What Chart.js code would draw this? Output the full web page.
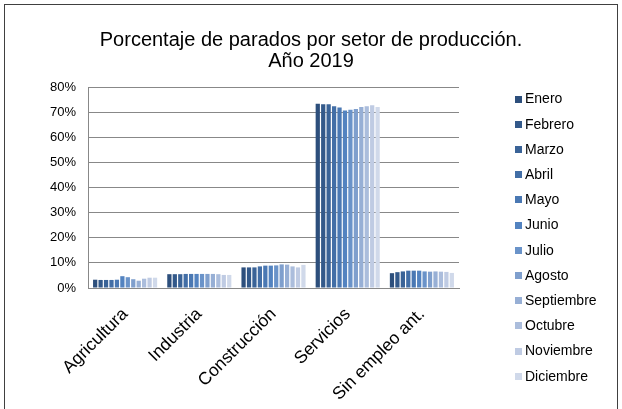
<!DOCTYPE html>
<html>
<head>
<meta charset="utf-8">
<script src="https://cdn.jsdelivr.net/npm/chart.js@4"></script>
<style>
  html, body { margin: 0; padding: 0; background: #fff; }
  #wrap { position: relative; width: 622px; height: 409px; }
</style>
</head>
<body>
<div id="wrap"><canvas id="myChart" width="622" height="409"></canvas></div>
<script>
// Data (percent)
const sectors = ["Agricultura", "Industria", "Construcción", "Servicios", "Sin empleo ant."];
const months = ["Enero", "Febrero", "Marzo", "Abril", "Mayo", "Junio", "Julio",
  "Agosto", "Septiembre", "Octubre", "Noviembre", "Diciembre"];

const agricultura = [3.3, 3.2, 3.2, 3.2, 3.3, 4.7, 4.3, 3.5, 2.9, 3.7, 4.1, 4.1];
const industria = [5.5, 5.5, 5.5, 5.6, 5.6, 5.6, 5.6, 5.6, 5.6, 5.5, 5.2, 5.2];
const construccion = [8.2, 8.2, 8.2, 8.6, 8.9, 8.9, 9.0, 9.4, 9.3, 8.6, 8.2, 9.2];
const servicios = [73.3, 73.1, 73.1, 72.3, 71.8, 70.6, 70.9, 71.2, 72.0, 72.3, 72.7, 72.0];
const sinEmpleo = [5.9, 6.3, 6.6, 6.9, 6.9, 6.9, 6.6, 6.5, 6.6, 6.5, 6.4, 6.0];

const yTicks = [0, 10, 20, 30, 40, 50, 60, 70, 80];
const titleLines = ["Porcentaje de parados por setor de producción.", "Año 2019"];

const monthColors = ["#2d4f7c", "#33598a", "#3a6397", "#426ea6", "#4a78b3", "#5383c0",
  "#6a93c9", "#7f9fcd", "#97afd5", "#abbddc", "#bfcbe3", "#d0d9ea"];

const FONT = "'Liberation Sans', Arial, sans-serif";

// one dataset per month, values taken across the sector arrays
const bySector = [agricultura, industria, construccion, servicios, sinEmpleo];
const datasets = months.map((m, i) => ({
  label: m,
  data: bySector.map(s => s[i]),
  backgroundColor: monthColors[i],
  borderWidth: 0,
  barPercentage: 0.78,
  categoryPercentage: 0.88
}));

// frame, title (centred on the whole picture) and the legend on the right
const framePlugin = {
  id: "frame",
  afterDraw(chart) {
    const ctx = chart.ctx;
    ctx.save();
    ctx.strokeStyle = "#404040";
    ctx.lineWidth = 1;
    ctx.strokeRect(4.5, 4.5, 613, 420);

    ctx.fillStyle = "#000";
    ctx.font = "20px " + FONT;
    ctx.textAlign = "center";
    ctx.textBaseline = "middle";
    titleLines.forEach((t, i) => ctx.fillText(t, 311, 40 + i * 21.5));

    ctx.font = "14px " + FONT;
    ctx.textAlign = "left";
    chart.data.datasets.forEach((ds, i) => {
      const y = 99 + i * 25.2;
      ctx.fillStyle = ds.backgroundColor;
      ctx.fillRect(515, Math.round(y - 3.5), 7, 7);
      ctx.fillStyle = "#000";
      ctx.fillText(ds.label, 525, y + 0.5);
    });
    ctx.restore();
  }
};

const ctx = document.getElementById("myChart").getContext("2d");
const chart = new Chart(ctx, {
  type: "bar",
  data: { labels: sectors, datasets: datasets },
  plugins: [framePlugin],
  options: {
    responsive: false,
    animation: false,
    layout: { padding: { left: 0, right: 163, top: 87, bottom: 0 } },
    plugins: {
      legend: { display: false },
      tooltip: { enabled: false },
      title: { display: false }
    },
    scales: {
      x: {
        grid: { display: false, drawTicks: false },
        border: { display: true, color: "#888", width: 1 },
        ticks: {
          color: "#000",
          font: { family: FONT, size: 17.5 },
          minRotation: 45,
          maxRotation: 45,
          padding: 16
        },
        afterFit(scale) { scale.height = 121; }
      },
      y: {
        min: 0,
        max: 80,
        afterBuildTicks(scale) { scale.ticks = yTicks.map(v => ({ value: v })); },
        grid: { color: "#888", lineWidth: 1, drawTicks: false },
        border: { display: true, color: "#888", width: 1 },
        ticks: {
          color: "#000",
          font: { family: FONT, size: 13 },
          padding: 12,
          callback: v => v + "%"
        },
        afterFit(scale) { scale.width = 88; }
      }
    }
  }
});
</script>
</body>
</html>
